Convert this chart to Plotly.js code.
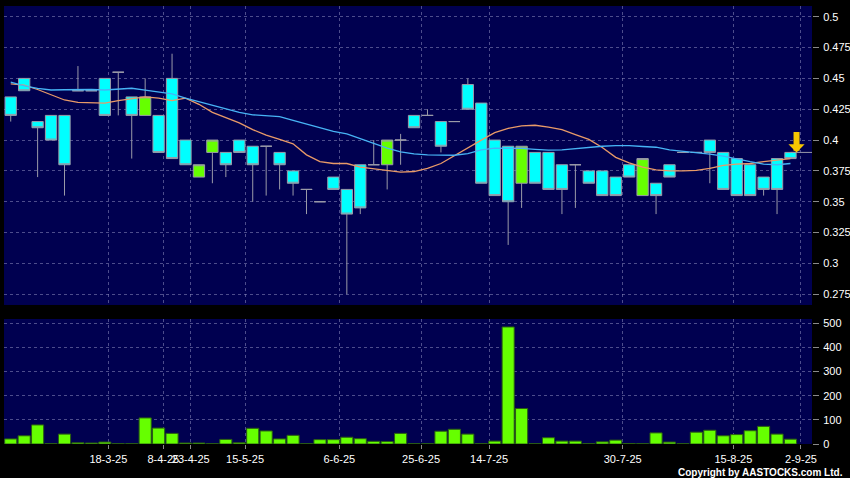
<!DOCTYPE html>
<html>
<head>
<meta charset="utf-8">
<script src="https://cdn.plot.ly/plotly-3.0.1.min.js"></script>
<style>
html,body{margin:0;padding:0;background:#000;}
#chart{width:850px;height:478px;}
</style>
</head>
<body>
<div id="chart"></div>
<script>
// ---- data ----
var idx = [];
for (var i = 0; i < 59; i++) idx.push(i);

var openP = [0.435,0.45,0.415,0.42,0.42,0.44,0.44,0.45,0.455,0.435,
             0.42,0.42,0.45,0.40,0.37,0.39,0.39,0.40,0.395,0.395,
             0.39,0.375,0.36,0.35,0.37,0.36,0.38,0.38,0.38,0.40,
             0.42,0.42,0.415,0.415,0.445,0.43,0.40,0.395,0.365,0.39,
             0.39,0.38,0.38,0.375,0.375,0.37,0.38,0.355,0.365,0.38,
             0.39,0.39,0.40,0.39,0.385,0.38,0.37,0.385,0.39];
var closeP = [0.42,0.44,0.41,0.40,0.38,0.44,0.44,0.42,0.455,0.42,
              0.435,0.39,0.385,0.38,0.38,0.40,0.38,0.39,0.38,0.395,
              0.38,0.365,0.36,0.35,0.36,0.34,0.345,0.38,0.40,0.40,
              0.41,0.42,0.395,0.415,0.425,0.365,0.355,0.35,0.395,0.365,
              0.36,0.36,0.38,0.365,0.355,0.355,0.37,0.385,0.355,0.37,
              0.39,0.39,0.39,0.36,0.355,0.355,0.36,0.36,0.385];
var highP = [0.435,0.45,0.415,0.42,0.42,0.46,0.44,0.45,0.455,0.435,
             0.45,0.42,0.47,0.40,0.38,0.40,0.39,0.40,0.395,0.395,
             0.39,0.375,0.36,0.35,0.37,0.36,0.38,0.40,0.40,0.405,
             0.42,0.425,0.415,0.415,0.45,0.43,0.40,0.395,0.395,0.39,
             0.39,0.38,0.38,0.375,0.375,0.37,0.38,0.385,0.365,0.38,
             0.39,0.39,0.40,0.39,0.385,0.38,0.37,0.385,0.39];
var lowP = [0.415,0.44,0.37,0.40,0.355,0.44,0.44,0.42,0.42,0.385,
            0.42,0.39,0.385,0.38,0.37,0.365,0.37,0.39,0.35,0.355,
            0.36,0.355,0.34,0.35,0.36,0.275,0.34,0.38,0.36,0.38,
            0.41,0.42,0.39,0.415,0.425,0.365,0.355,0.315,0.345,0.365,
            0.36,0.34,0.345,0.365,0.355,0.355,0.37,0.355,0.34,0.37,
            0.39,0.39,0.365,0.36,0.355,0.355,0.355,0.34,0.385];

var maShort = [0.4455,0.4446,0.441,0.4365,0.4325,0.4305,0.43,0.43,0.432,0.4335,
               0.435,0.434,0.432,0.434,0.429,0.4225,0.418,0.414,0.4085,0.404,
               0.4005,0.397,0.388,0.3825,0.381,0.381,0.378,0.3765,0.375,0.374,
               0.3745,0.377,0.381,0.3875,0.3935,0.40,0.406,0.4095,0.4115,0.412,
               0.4105,0.4085,0.4045,0.4005,0.394,0.386,0.3815,0.378,0.3758,0.375,
               0.375,0.3755,0.377,0.3795,0.3805,0.381,0.3825,0.3835,0.385];
var maLong = [0.447,0.444,0.442,0.4406,0.4408,0.441,0.441,0.4406,0.441,0.442,
              0.4405,0.439,0.4375,0.434,0.431,0.428,0.425,0.4225,0.4205,0.4195,
              0.419,0.416,0.413,0.41,0.407,0.405,0.401,0.397,0.3935,0.3905,
              0.3888,0.388,0.3878,0.3877,0.389,0.392,0.3934,0.3934,0.3932,0.3925,
              0.3918,0.392,0.393,0.3945,0.395,0.3955,0.3955,0.3948,0.3942,0.392,
              0.391,0.3895,0.3886,0.387,0.3845,0.3825,0.3805,0.38,0.381];

var volume = [21,34,79,1,41,5,4,8,1,1,
              108,66,44,4,4,1,19,5,65,54,
              21,36,1,18,18,28,22,11,10,44,
              1,1,53,61,41,1,12,485,147,1,
              26,12,12,1,9,16,2,1,46,8,
              1,49,57,34,39,55,73,41,20];

var tickPos = [7.26,11.35,13.39,17.43,24.44,30.52,35.58,45.52,53.75,58.78];
var tickText = ['18-3-25','8-4-25','23-4-25','15-5-25','6-6-25','25-6-25','14-7-25','30-7-25','15-8-25','2-9-25'];

var priceTicks = [0.275,0.3,0.325,0.35,0.375,0.4,0.425,0.45,0.475,0.5];
var priceTickText = ['0.275','0.3','0.325','0.35','0.375','0.4','0.425','0.45','0.475','0.5'];
var volTicks = [0,100,200,300,400,500];

// ---- styles ----
var FONT = 'Arial, "Liberation Sans", sans-serif';
var NAVY = '#000050';
var GRID = 'rgba(140,140,190,0.55)';
var WICK = '#9a9aa8';
var CYAN = '#00ffff';
var LIME = '#66ff00';
var last = idx.length - 1;

var traces = [
  {
    type: 'candlestick', x: idx, open: openP, high: highP, low: lowP, close: closeP,
    xaxis: 'x', yaxis: 'y',
    increasing: {line: {color: WICK, width: 1}, fillcolor: LIME},
    decreasing: {line: {color: WICK, width: 1}, fillcolor: CYAN},
    whiskerwidth: 0, hoverinfo: 'skip', showlegend: false
  },
  {
    type: 'scatter', mode: 'lines', x: idx, y: maShort, xaxis: 'x', yaxis: 'y',
    line: {color: '#e89a68', width: 1.3}, hoverinfo: 'skip', showlegend: false
  },
  {
    type: 'scatter', mode: 'lines', x: idx, y: maLong, xaxis: 'x', yaxis: 'y',
    line: {color: '#47b4f5', width: 1.3}, hoverinfo: 'skip', showlegend: false
  },
  {
    type: 'bar', x: idx, y: volume, xaxis: 'x2', yaxis: 'y2',
    marker: {color: LIME, line: {color: '#2b5e12', width: 1}},
    hoverinfo: 'skip', showlegend: false
  }
];

var xRange = [-0.5, 59.6];

var layout = {
  width: 850, height: 478,
  paper_bgcolor: '#000000', plot_bgcolor: NAVY,
  margin: {l: 4, r: 38, t: 6, b: 34, pad: 0},
  font: {family: FONT, color: '#ffffff', size: 11},
  showlegend: false,
  bargap: 0.1,
  boxgap: 0.16, boxgroupgap: 0,
  xaxis: {
    domain: [0, 1], anchor: 'y', range: xRange,
    rangeslider: {visible: false},
    tickmode: 'array', tickvals: tickPos, ticktext: tickText,
    showticklabels: false, ticks: '',
    showgrid: true, gridcolor: GRID, griddash: '3px,3px', gridwidth: 1,
    zeroline: false, showline: false, fixedrange: true
  },
  yaxis: {
    domain: [0.3174, 1], anchor: 'x', side: 'right',
    range: [0.2663, 0.5087],
    tickmode: 'array', tickvals: priceTicks, ticktext: priceTickText,
    ticks: 'outside', ticklen: 6, tickcolor: '#8a8a8a', tickwidth: 1,
    ticklabelstandoff: 2,
    tickfont: {family: FONT, color: '#ffffff', size: 11},
    showgrid: true, gridcolor: GRID, griddash: '3px,3px', gridwidth: 1,
    zeroline: false, showline: false, fixedrange: true
  },
  xaxis2: {
    domain: [0, 1], anchor: 'y2', range: xRange, matches: 'x',
    tickmode: 'array', tickvals: tickPos, ticktext: tickText,
    tickangle: 0, automargin: false,
    ticks: 'outside', ticklen: 4, tickcolor: '#8a8a8a', tickwidth: 1,
    ticklabelstandoff: 1,
    tickfont: {family: FONT, color: '#ffffff', size: 11},
    showgrid: true, gridcolor: GRID, griddash: '3px,3px', gridwidth: 1,
    zeroline: false, showline: false, fixedrange: true
  },
  yaxis2: {
    domain: [0, 0.2854], anchor: 'x2', side: 'right',
    range: [0, 518],
    tickmode: 'array', tickvals: volTicks,
    ticks: 'outside', ticklen: 6, tickcolor: '#8a8a8a', tickwidth: 1,
    ticklabelstandoff: 2,
    tickfont: {family: FONT, color: '#ffffff', size: 11},
    showgrid: true, gridcolor: GRID, griddash: '3px,3px', gridwidth: 1,
    zeroline: false, showline: false, fixedrange: true
  },
  shapes: [
    {type: 'line', xref: 'x', yref: 'y', layer: 'below',
     x0: last, x1: xRange[1], y0: openP[last], y1: openP[last],
     line: {color: WICK, width: 1}}
  ],
  annotations: [
    {xref: 'x', yref: 'y', x: last + 0.45, y: openP[last],
     showarrow: true, ax: 0, ay: -22, axref: 'pixel', ayref: 'pixel',
     arrowhead: 1, arrowsize: 0.45, arrowwidth: 6, arrowcolor: '#f7c600',
     standoff: 0, text: ''},
    {xref: 'paper', yref: 'paper', x: 1.0408, y: -0.064, xanchor: 'right', yanchor: 'middle',
     showarrow: false, text: '<b>Copyright by AASTOCKS.com Ltd.</b>',
     font: {family: FONT, color: '#ffffff', size: 10}}
  ]
};

Plotly.newPlot('chart', traces, layout, {staticPlot: true, displayModeBar: false});
</script>
</body>
</html>
